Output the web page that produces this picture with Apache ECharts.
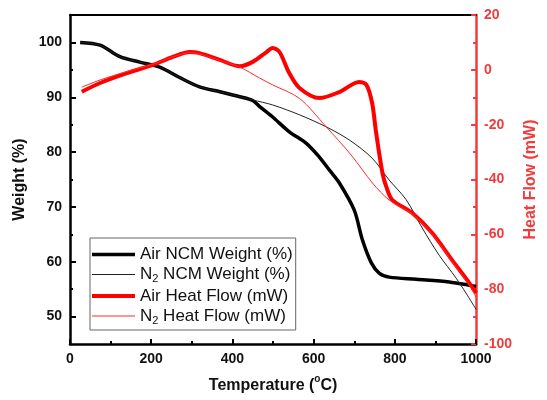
<!DOCTYPE html>
<html>
<head>
<meta charset="utf-8">
<script src="https://cdn.jsdelivr.net/npm/echarts@6/dist/echarts.min.js"></script>
<style>html,body{margin:0;padding:0;background:#fff}#c{width:547px;height:400px}</style>
</head>
<body>
<div id="c"></div>
<script>
// Temperatures (°C) and values
var airWeightT = [25, 74, 123, 172, 221, 270, 319, 369, 418, 450, 467, 499, 540, 582, 614, 639, 663, 700, 720, 742, 762, 786, 853, 934, 1000];
var airWeight  = [100.0, 99.5, 97.4, 96.4, 95.5, 93.6, 91.9, 91.0, 90.1, 89.4, 88.3, 86.4, 83.7, 81.6, 79.1, 76.7, 74.4, 69.4, 64.0, 59.8, 57.9, 57.2, 56.8, 56.3, 55.5];

var n2WeightT = [25, 74, 123, 172, 221, 270, 319, 369, 418, 450, 499, 565, 631, 688, 744, 786, 828, 867, 909, 951, 975, 1000];
var n2Weight  = [100.0, 99.5, 97.4, 96.4, 95.5, 93.6, 91.9, 91.0, 90.1, 89.5, 88.6, 86.8, 84.6, 82.2, 78.9, 74.9, 71.3, 66.2, 61.2, 57.0, 54.3, 51.3];

var airHeatT = [29, 74, 140, 204, 253, 295, 319, 369, 418, 450, 484, 499, 516, 540, 565, 614, 663, 712, 730, 744, 753, 762, 770, 779, 794, 843, 892, 941, 983, 1000];
var airHeat  = [-8.0, -4.8, -1.2, 1.8, 4.7, 6.5, 6.1, 3.6, 1.3, 2.9, 6.5, 8.0, 6.5, -1.2, -6.6, -10.3, -8.1, -4.4, -5.5, -12.1, -22, -31, -38, -42.7, -47.5, -52.2, -59.5, -69.4, -77.7, -81.4];

var n2HeatT = [29, 74, 140, 204, 253, 295, 319, 369, 418, 467, 499, 565, 631, 692, 745, 786, 843, 892, 941, 983, 1000];
var n2Heat  = [-6.3, -3.7, -0.6, 2.0, 4.7, 6.3, 5.8, 3.4, 1.0, -3.0, -5.5, -10.4, -20.8, -31.0, -41.3, -47.5, -52.6, -59.9, -70.0, -78.5, -82.9];

var weightTicks = [50, 60, 70, 80, 90, 100];
var weightMinorTicks = [55, 65, 75, 85, 95];

var seriesNames = ['Air NCM Weight (%)', 'N2 NCM Weight (%)', 'Air Heat Flow (mW)', 'N2 Heat Flow (mW)'];

function pairs(t, v) { return t.map(function (x, i) { return [x, v[i]]; }); }

var RED = '#f03c3c';
var FONT = 'Liberation Sans, Arial, sans-serif';
var colors = ['#000', '#222', '#ff0000', '#ff2a2a'];
var widths = [3.5, 1, 4, 1];

var chart = echarts.init(document.getElementById('c'), null, {renderer: 'canvas'});
chart.setOption({
  animation: false,
  backgroundColor: '#fff',
  grid: {left: 70, right: 70, top: 15, bottom: 56, containLabel: false},
  legend: {
    orient: 'vertical', left: 90, top: 238,
    padding: [8, 3, 4, 0], itemGap: 3,
    itemWidth: 43, itemHeight: 14,
    borderColor: '#666', borderWidth: 1,
    backgroundColor: '#fff',
    itemStyle: {opacity: 0},
    data: seriesNames.map(function (n, i) {
      return {name: n, lineStyle: {width: widths[i], color: colors[i]}};
    }),
    formatter: function (name) {
      if (name.indexOf('N2') === 0) return '{t|N}{s|2}{t|' + name.slice(2) + '}';
      return '{t|' + name + '}';
    },
    textStyle: {
      fontFamily: FONT, color: '#111',
      rich: {
        t: {fontSize: 17, lineHeight: 20, fontFamily: FONT, color: '#111'},
        s: {fontSize: 11, lineHeight: 11, verticalAlign: 'bottom', fontFamily: FONT, color: '#111'}
      }
    }
  },
  xAxis: [{
    type: 'value', min: 0, max: 1000, interval: 200, position: 'bottom',
    name: '{b|Temperature (}{sup|o}{b|C)}', nameLocation: 'middle', nameGap: 30,
    nameTextStyle: {fontFamily: FONT, fontSize: 16, fontWeight: 'bold', color: '#111',
      rich: {
        b: {fontSize: 16, lineHeight: 24, fontWeight: 'bold', fontFamily: FONT, color: '#111'},
        sup: {fontSize: 10, lineHeight: 10, fontWeight: 'bold', verticalAlign: 'top', fontFamily: FONT, color: '#111'}
      }},
    axisLine: {show: true, onZero: false, lineStyle: {color: '#000', width: 2.5}},
    axisTick: {show: true, inside: true, length: 5, lineStyle: {color: '#000', width: 2}},
    minorTick: {show: true, splitNumber: 2, length: 3, lineStyle: {color: '#000', width: 2}},
    axisLabel: {fontFamily: FONT, fontSize: 14, fontWeight: 'bold', color: '#111', margin: 8,
      formatter: function (v) { return String(v); }},
    splitLine: {show: false}
  }, {
    type: 'value', min: 0, max: 1000, position: 'top',
    axisLine: {show: true, onZero: false, lineStyle: {color: '#000', width: 2}},
    axisTick: {show: false}, axisLabel: {show: false}, splitLine: {show: false}
  }],
  yAxis: [{
    type: 'value', min: 45, max: 105, position: 'left',
    name: 'Weight (%)', nameLocation: 'middle', nameGap: 35, nameRotate: 90,
    nameTextStyle: {fontFamily: FONT, fontSize: 16, fontWeight: 'bold', color: '#111'},
    axisLine: {show: true, onZero: false, lineStyle: {color: '#000', width: 2.5}},
    axisTick: {show: true, inside: true, length: 6, customValues: weightTicks, lineStyle: {color: '#000', width: 2}},
    axisLabel: {fontFamily: FONT, fontSize: 14, fontWeight: 'bold', color: '#111', margin: 8, customValues: weightTicks},
    splitLine: {show: false}
  }, {
    type: 'value', min: -100, max: 20, interval: 20, position: 'right',
    name: 'Heat Flow (mW)', nameLocation: 'middle', nameGap: 46, nameRotate: 90,
    nameTextStyle: {fontFamily: FONT, fontSize: 16, fontWeight: 'bold', color: RED},
    axisLine: {show: true, onZero: false, lineStyle: {color: RED, width: 2.5}},
    axisTick: {show: true, inside: true, length: 5, lineStyle: {color: RED, width: 2}},
    minorTick: {show: true, splitNumber: 2, length: 3, lineStyle: {color: RED, width: 2}},
    axisLabel: {fontFamily: FONT, fontSize: 14, fontWeight: 'bold', color: RED, margin: 8},
    splitLine: {show: false}
  }, {
    type: 'value', min: 45, max: 105, position: 'left',
    axisLine: {show: false},
    axisTick: {show: true, inside: true, length: 3, customValues: weightMinorTicks, lineStyle: {color: '#000', width: 2}},
    axisLabel: {show: false}, splitLine: {show: false}
  }],
  series: [{
    name: seriesNames[0], type: 'line', xAxisIndex: 0, yAxisIndex: 0,
    data: pairs(airWeightT, airWeight), smooth: 0.3, symbol: 'none',
    lineStyle: {color: colors[0], width: widths[0]}, itemStyle: {color: colors[0]}
  }, {
    name: seriesNames[1], type: 'line', xAxisIndex: 0, yAxisIndex: 0,
    data: pairs(n2WeightT, n2Weight), smooth: 0.3, symbol: 'none',
    lineStyle: {color: colors[1], width: widths[1]}, itemStyle: {color: colors[1]}
  }, {
    name: seriesNames[2], type: 'line', xAxisIndex: 0, yAxisIndex: 1,
    data: pairs(airHeatT, airHeat), smooth: 0.3, symbol: 'none',
    lineStyle: {color: colors[2], width: widths[2]}, itemStyle: {color: colors[2]}
  }, {
    name: seriesNames[3], type: 'line', xAxisIndex: 0, yAxisIndex: 1,
    data: pairs(n2HeatT, n2Heat), smooth: 0.3, symbol: 'none',
    lineStyle: {color: colors[3], width: widths[3]}, itemStyle: {color: colors[3]}
  }]
});
</script>
</body>
</html>
